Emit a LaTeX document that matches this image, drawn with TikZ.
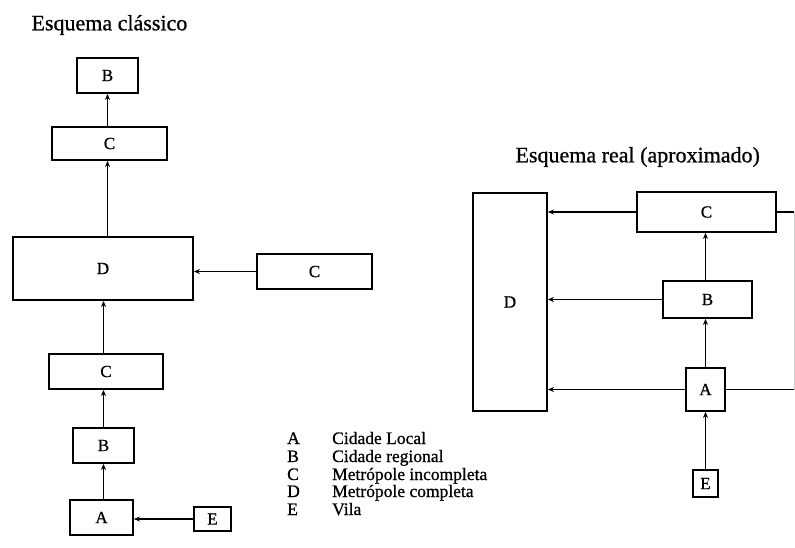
\documentclass[tikz,border=0pt]{standalone}
\usepackage{fontspec}
\setmainfont{Liberation Serif}
\newfontfamily\scanfont{Liberation Serif}[FakeBold=0.8]
\usetikzlibrary{arrows.meta,calc}
\begin{document}
\begin{tikzpicture}[x=1pt,y=-1pt,
  box/.style={draw,line width=1.8pt,inner sep=0pt,font=\scanfont\fontsize{17}{19}\selectfont},
  link/.style={line width=1.5pt,-{Stealth[length=6pt,width=5pt]}},
  plain/.style={line width=1.4pt},
  title/.style={font=\scanfont\fontsize{22}{24}\selectfont,anchor=west},
  legend/.style={font=\scanfont\fontsize{17.5}{18}\selectfont,anchor=base west,inner sep=0pt}]
\useasboundingbox (0,0) rectangle (795,547);

% --- Esquema clássico ---
\node[title] (t1) at (28,25) {Esquema clássico};
\node[box,minimum width=61pt,minimum height=35pt] (lB1) at (107.5,75.5) {B};
\node[box,minimum width=115pt,minimum height=33pt] (lC1) at (109.5,143.5) {C};
\node[box,minimum width=180pt,minimum height=63pt] (lD) at (103,268.5) {D};
\node[box,minimum width=115pt,minimum height=35pt] (lC2) at (314.5,271.5) {C};
\node[box,minimum width=114pt,minimum height=35pt] (lC3) at (106,371.5) {C};
\node[box,minimum width=61pt,minimum height=35pt] (lB2) at (103.5,445.5) {B};
\node[box,minimum width=63pt,minimum height=35pt] (lA) at (101.5,517.5) {A};
\node[box,minimum width=37pt,minimum height=24pt] (lE) at (212.5,519) {E};

\draw[link] (lC1.north -| lB1) -- (lB1.south);
\draw[link] (lD.north -| lB1) -- (lC1.south -| lB1);
\draw[link] (lC2.west) -- (lD.east |- lC2.west);
\draw[link] (lC3.north -| lB2) -- (lD.south -| lB2);
\draw[link] (lB2.north) -- (lC3.south -| lB2);
\draw[link] (lA.north -| lB2) -- (lB2.south);
\draw[link] (lE.west) -- (lA.east |- lE.west);

% --- legenda (baselines) ---
\foreach \k/\txt/\yy in {A/Cidade Local/444,B/Cidade regional/462,C/Metrópole incompleta/480,D/Metrópole completa/497,E/Vila/515}{
  \node[legend] (key\k) at (287,\yy) {\k};
  \node[legend] (txt\k) at (332,\yy) {\txt};
}

% --- Esquema real (aproximado) ---
\node[title] (t2) at (512,157) {Esquema real (aproximado)};
\node[box,minimum width=74pt,minimum height=218pt] (rD) at (510,302) {D};
\node[box,minimum width=139pt,minimum height=40pt] (rC) at (706.5,212) {C};
\node[box,minimum width=89pt,minimum height=37pt] (rB) at (707.5,299.5) {B};
\node[box,minimum width=39pt,minimum height=43pt] (rA) at (705.5,389.5) {A};
\node[box,minimum width=25pt,minimum height=27pt] (rE) at (705.5,483.5) {E};
\coordinate (edge) at (794,0);

\draw[link] (rC.west) -- (rD.east |- rC.west);
\draw[link] (rB.west) -- (rD.east |- rB.west);
\draw[link] (rA.west) -- (rD.east |- rA.west);
\draw[link] (rB.north -| rA) -- (rC.south -| rA);
\draw[link] (rA.north) -- (rB.south -| rA);
\draw[link] (rE.north) -- (rA.south);
\draw[plain] (rC.east) -- (rC.east -| edge);
\draw[plain] (rA.east) -- (rA.east -| edge);
\draw[line width=0.8pt,black!20] (rC.east -| edge) -- (rA.east -| edge);
\end{tikzpicture}
\end{document}
